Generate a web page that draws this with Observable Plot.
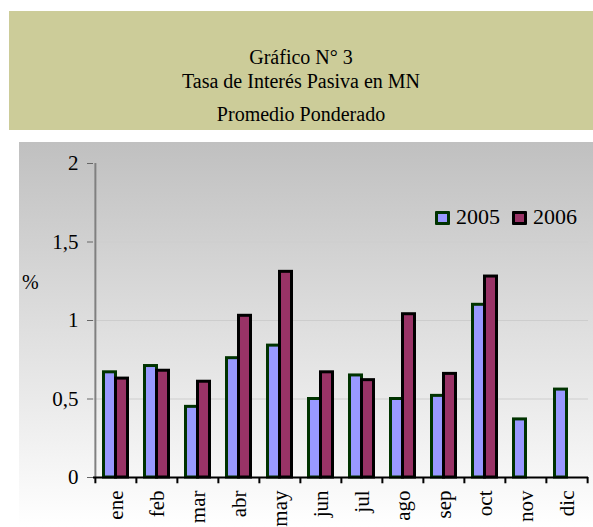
<!DOCTYPE html>
<html>
<head>
<meta charset="utf-8">
<script src="https://cdn.jsdelivr.net/npm/d3@7"></script>
<script src="https://cdn.jsdelivr.net/npm/@observablehq/plot@0.6"></script>
<style>
  body { margin: 0; background: #ffffff; font-family: "Liberation Serif", serif; }
  #page { position: relative; width: 593px; height: 527px; overflow: hidden; }
  #titlebox { position: absolute; left: 9px; top: 11px; width: 584px; height: 119px; background: #CCCC99; }
  .tl { position: absolute; left: 0; width: 100%; text-align: center; font-size: 20px; color: #000; line-height: 1; }
  #chartbox { position: absolute; left: 19px; top: 142px; width: 574px; height: 385px;
              background: linear-gradient(to bottom, #C0C0C0, #FFFFFF); }
  #chartbox svg { position: absolute; left: 0; top: 0; overflow: visible; }
  #pct { position: absolute; left: 22px; top: 271px; font-size: 20px; }
  #legend { position: absolute; left: 435px; top: 205px; font-size: 22px; white-space: nowrap; line-height: 24px; }
  .sw { display: inline-block; width: 9px; height: 8px; border: 3px solid; border-radius: 1px; vertical-align: -1px; margin-right: 6px; }
  .item { display: inline-block; margin-right: 12px; }
</style>
</head>
<body>
<div id="page">
  <div id="titlebox">
    <div class="tl" style="top:36px">Gráfico N° 3</div>
    <div class="tl" style="top:60px">Tasa de Interés Pasiva en MN</div>
    <div class="tl" style="top:93px">Promedio Ponderado</div>
  </div>
  <div id="chartbox"></div>
  <div id="pct">%</div>
  <div id="legend">
    <span class="item"><span class="sw" style="background:#9999FF;border-color:#003300"></span>2005</span><span class="item" style="margin-right:0"><span class="sw" style="background:#993366;border-color:#000000"></span>2006</span>
  </div>
</div>
<script>
const months = ["ene","feb","mar","abr","may","jun","jul","ago","sep","oct","nov","dic"];
const values2005 = [0.67, 0.71, 0.45, 0.76, 0.84, 0.50, 0.65, 0.50, 0.52, 1.10, 0.37, 0.56];
const values2006 = [0.63, 0.68, 0.61, 1.03, 1.31, 0.67, 0.62, 1.04, 0.66, 1.28, null, null];
const yTicks = [0, 0.5, 1, 1.5, 2];
const gridTicks = [0.5, 1, 1.5];

const d05 = months.map((m, i) => ({month: m, value: values2005[i]})).filter(d => d.value != null);
const d06 = months.map((m, i) => ({month: m, value: values2006[i]})).filter(d => d.value != null);

const W = 574, H = 385, ML = 74, MR = 5;
const half = (W - ML - MR) / months.length / 2;
const fmt = d => String(d).replace(".", ",");

const chart = Plot.plot({
  width: W,
  height: H,
  marginLeft: ML,
  marginRight: MR,
  marginTop: 21,
  marginBottom: 50,
  style: {background: "transparent", fontFamily: "Liberation Serif", color: "#000"},
  x: {type: "band", domain: months, padding: 0},
  y: {domain: [0, 2]},
  marks: [
    Plot.gridY(gridTicks, {stroke: "#CDCDCD", strokeOpacity: 1, strokeWidth: 1.2}),
    Plot.barY(d05, {x: "month", y: "value", fill: "#9999FF", stroke: "#003300", strokeWidth: 3,
                    insetLeft: 8.5, insetRight: 20.5}),
    Plot.barY(d06, {x: "month", y: "value", fill: "#993366", stroke: "#000000", strokeWidth: 3,
                    insetLeft: 20.5, insetRight: 8.5}),
    Plot.ruleX([months[0]], {dx: -half, y1: 0, y2: 2, stroke: "#808080", strokeWidth: 2}),
    Plot.ruleY([0], {stroke: "#000", strokeWidth: 2}),
    Plot.ruleX(months, {dx: -half, y1: 0, y2: -0.04, stroke: "#000", strokeWidth: 2}),
    Plot.ruleX([months[months.length - 1]], {dx: half, y1: 0, y2: -0.04, stroke: "#000", strokeWidth: 2}),
    Plot.axisY(yTicks, {tickSize: 6, tickPadding: 9, fontSize: 21, tickFormat: fmt, stroke: "#666", fill: "#000", label: null}),
    Plot.axisX({tickSize: 0, tickPadding: 13, tickRotate: -90, fontSize: 21, fill: "#000", label: null})
  ]
});
document.getElementById("chartbox").appendChild(chart);
</script>
</body>
</html>
